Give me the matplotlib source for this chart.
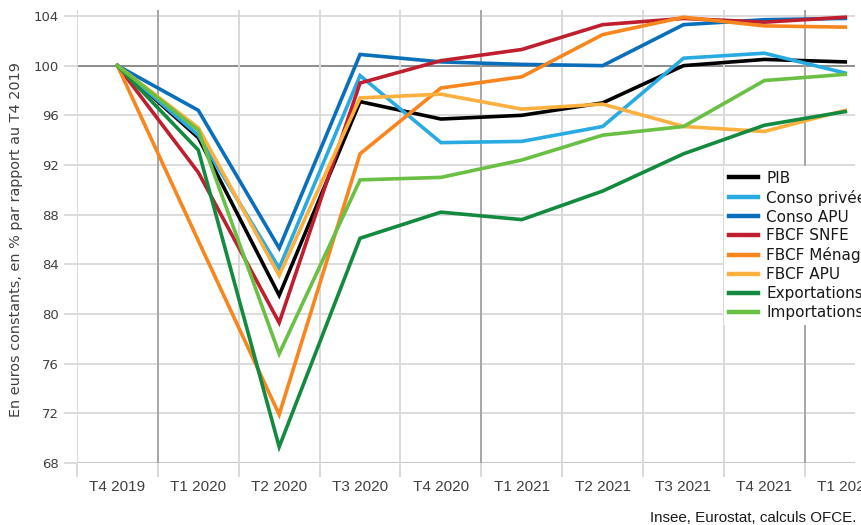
import matplotlib
matplotlib.use('Agg')
import matplotlib.pyplot as plt
from matplotlib import font_manager

quarters = ['T4 2019', 'T1 2020', 'T2 2020', 'T3 2020', 'T4 2020',
            'T1 2021', 'T2 2021', 'T3 2021', 'T4 2021', 'T1 2022']

pib = [100, 94.2, 81.5, 97.1, 95.7, 96.0, 97.0, 100.0, 100.5, 100.3]
conso_privee = [100, 94.4, 83.7, 99.2, 93.8, 93.9, 95.1, 100.6, 101.0, 99.4]
conso_apu = [100, 96.4, 85.3, 100.9, 100.3, 100.1, 100.0, 103.3, 103.7, 103.8]
fbcf_snfe = [100, 91.4, 79.3, 98.6, 100.4, 101.3, 103.3, 103.8, 103.5, 103.9]
fbcf_menages = [100, 85.9, 71.9, 92.9, 98.2, 99.1, 102.5, 103.9, 103.2, 103.1]
fbcf_apu = [100, 95.0, 83.1, 97.4, 97.7, 96.5, 96.9, 95.1, 94.7, 96.4]
exportations = [100, 93.2, 69.3, 86.1, 88.2, 87.6, 89.9, 92.9, 95.2, 96.3]
importations = [100, 94.8, 76.8, 90.8, 91.0, 92.4, 94.4, 95.1, 98.8, 99.3]

series = [
    ('PIB', pib, '#000000'),
    ('Conso privée', conso_privee, '#29abe2'),
    ('Conso APU', conso_apu, '#0a6fba'),
    ('FBCF SNFE', fbcf_snfe, '#be1e2d'),
    ('FBCF Ménages', fbcf_menages, '#f7861e'),
    ('FBCF APU', fbcf_apu, '#fbb040'),
    ('Exportations', exportations, '#138a3f'),
    ('Importations', importations, '#6abf45'),
]

yticks = list(range(68, 105, 4))

installed = {f.name for f in font_manager.fontManager.ttflist}
narrow = 'Liberation Sans Narrow' if 'Liberation Sans Narrow' in installed else 'Liberation Sans'

W, H = 861, 525
fig = plt.figure(figsize=(W / 100, H / 100), dpi=100)
# plot area: x 77..855 px, y 10..463 px
ax = fig.add_axes([77 / W, (H - 463) / H, (855 - 77) / W, (463 - 10) / H])

light = '#d9d9d9'
dark = '#a6a6a6'

for y in yticks:
    if y == 100:
        ax.axhline(y, color='#8c8c8c', lw=1.4, zorder=1)
    elif y == 68:
        ax.axhline(y, color='#c8c8c8', lw=2.2, zorder=1)
    else:
        ax.axhline(y, color=light, lw=1.3, zorder=1)

bounds = [i - 0.5 for i in range(10)]
for b in bounds:
    col = dark if b in (0.5, 4.5, 8.5) else light
    ax.axvline(b, color=col, lw=1.4, zorder=1)

for name, vals, col in series:
    ax.plot(range(len(quarters)), vals, color=col, lw=2.6, label=name,
            solid_joinstyle='miter', zorder=3)

ax.set_xlim(-0.5, 9.12)
ax.set_ylim(68, 104.48)
for s in ax.spines.values():
    s.set_visible(False)

ax.set_yticks(yticks)
ax.set_yticklabels([str(y) for y in yticks], fontsize=9.5, color='#404040',
                   family='DejaVu Sans')
ax.tick_params(axis='y', length=9.5, width=1.3, color=light, pad=3.5)
for t, y in zip(ax.yaxis.get_major_ticks(), yticks):
    if y == 100:
        t.tick1line.set_color('#8c8c8c')

ax.set_xticks(range(len(quarters)))
ax.set_xticklabels(quarters, fontsize=11, color='#404040', family=narrow)
ax.tick_params(axis='x', which='major', length=0, pad=12)
ax.set_xticks(bounds, minor=True)
ax.tick_params(axis='x', which='minor', length=10, width=1.4, color=light)
for t, b in zip(ax.xaxis.get_minor_ticks(), bounds):
    if b in (0.5, 4.5, 8.5):
        t.tick1line.set_color(dark)

fig.text(16 / W, 1 - 240 / H, 'En euros constants, en % par rapport au T4 2019',
         rotation=90, ha='center', va='center', fontsize=10.4, color='#404040',
         family='DejaVu Sans')

fig.text(856 / W, 1 - 518 / H, 'Insee, Eurostat, calculs OFCE.', ha='right',
         va='center', fontsize=10.9, color='#1a1a1a', family=narrow)

leg = ax.legend(loc='upper left', bbox_to_anchor=(724 / W, 1 - 166 / H),
                bbox_transform=fig.transFigure, frameon=True, fancybox=False,
                borderaxespad=0, borderpad=0.3, labelspacing=0.26,
                handlelength=1.9, handletextpad=0.55,
                prop={'family': 'DejaVu Sans', 'size': 11})
leg.get_frame().set_facecolor('white')
leg.get_frame().set_edgecolor('none')
leg.get_frame().set_alpha(1)
for line in leg.get_lines():
    line.set_linewidth(3.2)
for txt in leg.get_texts():
    txt.set_color('#1a1a1a')
leg.set_zorder(5)

fig.savefig('out.png', dpi=100)
